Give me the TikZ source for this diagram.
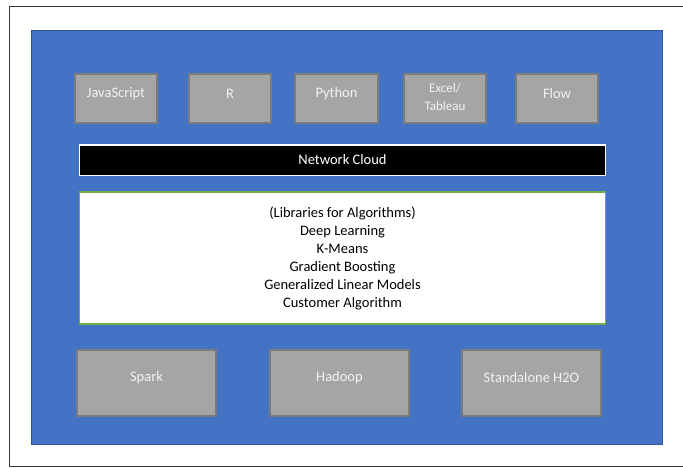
\documentclass[tikz,border=0pt]{standalone}
\usepackage{fontspec}
\setmainfont{Carlito}
\definecolor{bgblue}{HTML}{4472C4}
\definecolor{bgblueline}{HTML}{2F5597}
\definecolor{boxgray}{HTML}{A5A5A5}
\definecolor{boxline}{HTML}{7B7B7B}
\definecolor{txtwhite}{HTML}{F2F2F2}
\definecolor{libgreen}{HTML}{70AD47}
\definecolor{framegray}{HTML}{3A3A3A}
\tikzset{
  graybox/.style={fill=boxgray, draw=boxline, line width=1.2pt},
  graytext/.style={text=txtwhite, font=\fontsize{14.5}{18}\selectfont, align=center, inner sep=0pt},
}
\begin{document}
\begin{tikzpicture}[x=1pt,y=-1pt]
\useasboundingbox (0,0) rectangle (683,468);
% outer frame (right side outside the picture)
\draw[framegray, line width=1pt] (690,7) -- (9,7) -- (9,466.5) -- (690,466.5);
% blue panel
\path[fill=bgblue, draw=bgblueline, line width=0.8pt] (31,30) rectangle (662,444);
% top row
\path[graybox] (75,74) rectangle (157,123);
\path[graybox] (189,74) rectangle (271,123);
\path[graybox] (295,74) rectangle (378,123);
\path[graybox] (404,74) rectangle (486,123);
\path[graybox] (516,74) rectangle (598,123);
\node[graytext] (js) at (116,94) {JavaScript};
\node[graytext] (r) at (230,94) {R};
\node[graytext] (py) at (336.5,94) {Python};
\node[graytext, font=\fontsize{13}{18}\selectfont] (xl) at (445,97) {Excel/\\Tableau};
\node[graytext] (fl) at (557,94) {Flow};
% network cloud
\path[fill=black, draw=white, line width=1.2pt] (79.5,145) rectangle (605.5,175.5);
\node[text=white, font=\fontsize{14.5}{18}\selectfont, inner sep=0pt] (nc) at (342.5,160) {Network Cloud};
% libraries
\path[fill=white, draw=libgreen, line width=1.2pt] (79.5,192) rectangle (605.5,324);
\node[text=black, font=\fontsize{14.5}{18}\selectfont, align=center, inner sep=0pt] (lib) at (342.5,258)
  {(Libraries for Algorithms)\\Deep Learning\\K-Means\\Gradient Boosting\\Generalized Linear Models\\Customer Algorithm};
% bottom row
\path[graybox] (77,350) rectangle (216,416);
\path[graybox] (270,350) rectangle (409,416);
\path[graybox] (462,350) rectangle (601,416);
\node[graytext] (sp) at (146.5,378) {Spark};
\node[graytext] (hd) at (339.5,378) {Hadoop};
\node[graytext] (h2o) at (531.5,378) {Standalone H2O};
\end{tikzpicture}
\end{document}
